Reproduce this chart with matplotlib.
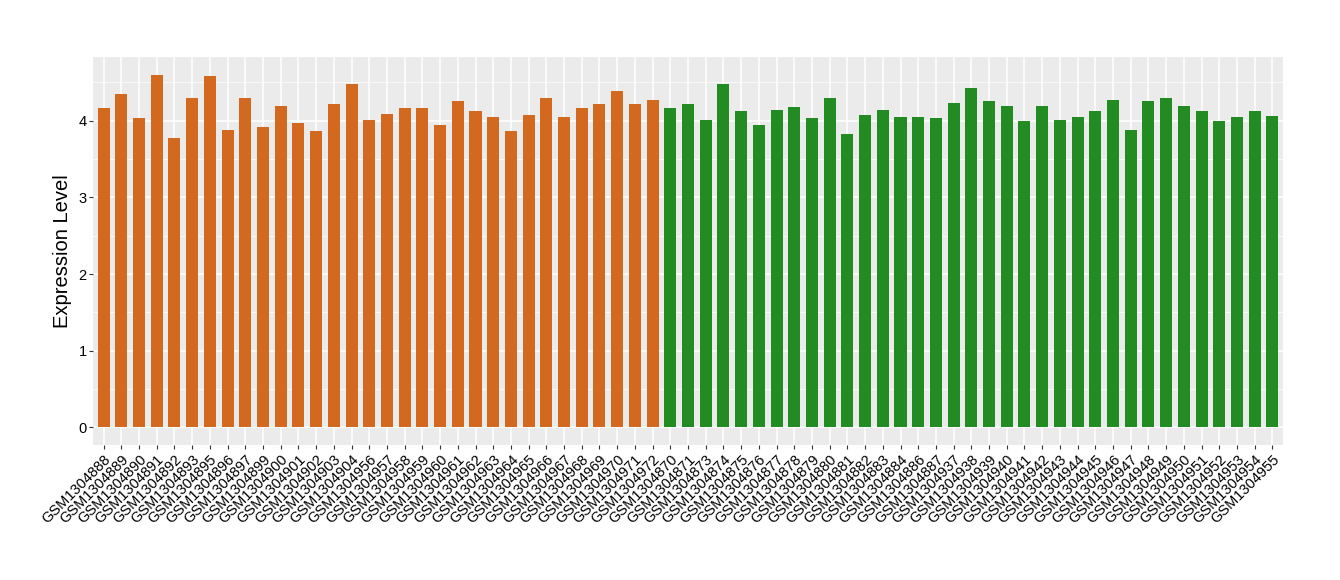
import matplotlib
matplotlib.use("Agg")
import matplotlib.pyplot as plt
from matplotlib.ticker import MultipleLocator

samples_a = ["GSM1304888", "GSM1304889", "GSM1304890", "GSM1304891", "GSM1304892", "GSM1304893",
             "GSM1304895", "GSM1304896", "GSM1304897", "GSM1304899", "GSM1304900", "GSM1304901",
             "GSM1304902", "GSM1304903", "GSM1304904", "GSM1304956", "GSM1304957", "GSM1304958",
             "GSM1304959", "GSM1304960", "GSM1304961", "GSM1304962", "GSM1304963", "GSM1304964",
             "GSM1304965", "GSM1304966", "GSM1304967", "GSM1304968", "GSM1304969", "GSM1304970",
             "GSM1304971", "GSM1304972"]
values_a = [4.16, 4.35, 4.04, 4.60, 3.78, 4.29, 4.58, 3.88, 4.30, 3.92, 4.19, 3.97,
            3.86, 4.22, 4.48, 4.01, 4.09, 4.17, 4.17, 3.94, 4.26, 4.13, 4.05, 3.87,
            4.08, 4.29, 4.05, 4.17, 4.22, 4.39, 4.22, 4.27]

samples_b = ["GSM1304870", "GSM1304871", "GSM1304873", "GSM1304874", "GSM1304875", "GSM1304876",
             "GSM1304877", "GSM1304878", "GSM1304879", "GSM1304880", "GSM1304881", "GSM1304882",
             "GSM1304883", "GSM1304884", "GSM1304886", "GSM1304887", "GSM1304937", "GSM1304938",
             "GSM1304939", "GSM1304940", "GSM1304941", "GSM1304942", "GSM1304943", "GSM1304944",
             "GSM1304945", "GSM1304946", "GSM1304947", "GSM1304948", "GSM1304949", "GSM1304950",
             "GSM1304951", "GSM1304952", "GSM1304953", "GSM1304954", "GSM1304955"]
values_b = [4.16, 4.22, 4.01, 4.48, 4.13, 3.94, 4.14, 4.18, 4.04, 4.29, 3.82, 4.08,
            4.14, 4.05, 4.05, 4.04, 4.23, 4.43, 4.26, 4.19, 3.99, 4.19, 4.01, 4.05,
            4.13, 4.27, 3.88, 4.26, 4.30, 4.19, 4.13, 3.99, 4.05, 4.13, 4.06]

color_a = "#D2691E"
color_b = "#228B22"

plt.rcParams['font.family'] = ['Liberation Sans', 'DejaVu Sans']

fig = plt.figure(figsize=(13.4, 5.8), dpi=100)
ax = fig.add_axes([93/1340, 1 - 445/580, (1283-93)/1340, (445-57)/580])

labels = samples_a + samples_b
values = values_a + values_b
colors = [color_a]*len(samples_a) + [color_b]*len(samples_b)
x = list(range(len(labels)))

ax.set_facecolor("#EBEBEB")
ax.bar(x, values, width=0.68, color=colors, zorder=3)

ax.set_xlim(-0.6, len(labels) - 1 + 0.6)
ax.set_ylim(-0.23, 4.83)
ax.yaxis.set_major_locator(MultipleLocator(1))
ax.yaxis.set_minor_locator(MultipleLocator(0.5))
ax.set_xticks(x)
ax.set_xticklabels(labels, rotation=45, ha="right", rotation_mode="anchor", fontsize=10.5, color="black")
ax.tick_params(axis="y", labelsize=10.5, labelcolor="black", color="#333333", length=2.9, width=0.8, pad=1.6)
ax.tick_params(axis="x", color="#333333", length=3.2, width=0.8, pad=2)
ax.tick_params(axis="y", which="minor", length=0)

ax.grid(True, which="major", color="white", linewidth=1.1, zorder=0)
ax.grid(True, which="minor", axis="y", color="white", linewidth=0.5, zorder=0)
ax.set_axisbelow(True)
for s in ax.spines.values():
    s.set_visible(False)

ax.set_ylabel("Expression Level", fontsize=14.5, labelpad=4.5)

fig.savefig("out.png", dpi=100)
